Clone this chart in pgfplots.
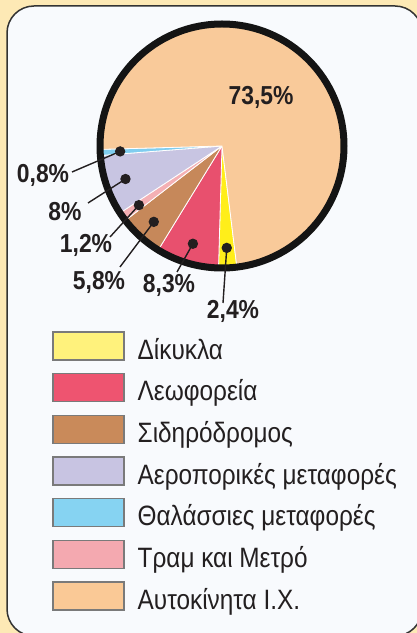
\documentclass[border=0pt]{standalone}
\usepackage{pgfplots}
\pgfplotsset{compat=1.18}
\usepackage{pgfplotstable}
\usepackage{fontspec}
\setmainfont{Liberation Sans}
\newfontfamily\labfont[FakeStretch=0.88]{Liberation Sans}
\newfontfamily\legfont[FakeStretch=0.87]{Liberation Sans}

\definecolor{bgcream}{HTML}{FDE9B5}
\definecolor{boxwhite}{HTML}{F8FAFD}
\definecolor{boxline}{HTML}{333333}
\definecolor{textc}{HTML}{231F20}
\definecolor{swgray}{HTML}{7A7A7A}
% pie colours (pie order)
\definecolor{c0}{HTML}{FFEE1A}
\definecolor{c1}{HTML}{E8506E}
\definecolor{c2}{HTML}{C6885A}
\definecolor{c3}{HTML}{F4B0B4}
\definecolor{c4}{HTML}{C8C5E2}
\definecolor{c5}{HTML}{80CDEF}
\definecolor{c6}{HTML}{F9CA9A}
% legend colours
\definecolor{l0}{HTML}{FFF27C}
\definecolor{l1}{HTML}{EE5470}
\definecolor{l2}{HTML}{C98A5A}
\definecolor{l3}{HTML}{C8C4E2}
\definecolor{l4}{HTML}{86D3F2}
\definecolor{l5}{HTML}{F4A9B0}
\definecolor{l6}{HTML}{FAC996}

\pgfplotstableread{
name value
Dikykla 2.4
Leoforeia 8.3
Sidirodromos 5.8
Tram 1.2
Aeroporikes 8.0
Thalassies 0.8
Aftokinita 73.5
}\piedata

\begin{document}
\begin{tikzpicture}
\begin{axis}[x=0.5pt,y=0.5pt,xmin=0,xmax=417,ymin=0,ymax=633,
  hide axis, clip=false,
  legend cell align=left,
  legend style={at={(axis cs:52.3,301.7)},anchor=north west,draw=none,fill=none,
    inner sep=0pt,outer sep=0pt,row sep=4pt,
    font=\legfont\fontsize{14}{16}\selectfont, text=textc,
    nodes={inner sep=0pt, text height=9pt, text depth=3pt},
    /tikz/every odd column/.append style={column sep=6.5pt}},
  legend image code/.code={\draw[#1,draw=swgray,line width=0.7pt] (0pt,-3.5pt) rectangle (35.5pt,10.5pt);}
]
\coordinate (BL) at (axis cs:0,0);
\coordinate (TR) at (axis cs:417,633);
\fill[bgcream] (axis cs:-10,-10) rectangle (axis cs:427,643);
\draw[fill=boxwhite, draw=boxline, line width=0.75pt, rounded corners=13.5pt] (axis cs:7,-3) rectangle (axis cs:422,627);

\def\cx{222}\def\cy{487}\def\startang{-83}\def\R{61pt}
\pgfplotstablegetrowsof{\piedata}
\pgfmathtruncatemacro\N{\pgfplotsretval-1}
\def\cum{0}
\pgfplotsforeachungrouped \i in {0,...,\N}{%
  \pgfplotstablegetelem{\i}{value}\of\piedata
  \let\v\pgfplotsretval
  \pgfmathsetmacro\aS{\startang-3.6*\cum}
  \pgfmathsetmacro\aE{\startang-3.6*(\cum+\v)}
  \pgfmathsetmacro\aM{(\aS+\aE)/2}
  \pgfmathsetmacro\cum{\cum+\v}
  \edef\temp{\noexpand\filldraw[fill=c\i,draw=white,line width=0.4pt] (axis cs:\cx,\cy) -- ++(\aS:\R) arc[start angle=\aS,end angle=\aE,radius=\R] -- cycle;
    \noexpand\path (axis cs:\cx,\cy) ++(\aM:51pt) coordinate (dot\i);}
  \temp
}
\draw[line width=3.5pt, draw=black!92] (axis cs:\cx,\cy) circle[radius=\R];

\draw[line width=0.7pt,textc] (dot5) -- (axis cs:72,461);
\draw[line width=0.7pt,textc] (dot4) -- (axis cs:88,430);
\draw[line width=0.7pt,textc] (dot3) -- (axis cs:110,396);
\draw[line width=0.7pt,textc] (dot2) -- (axis cs:120,366);
\draw[line width=0.7pt,textc] (dot1) -- (axis cs:177,361);
\draw[line width=0.7pt,textc] (dot0) -- (axis cs:223,330);
\pgfplotsinvokeforeach{0,...,5}{\fill[textc] (dot#1) circle[radius=2.6pt];}

\begin{scope}[every node/.style={font=\labfont\bfseries\fontsize{13}{15}\selectfont, text=textc, inner sep=0pt}]
\node at (axis cs:261,536) {73,5\%};
\node at (axis cs:43,458) {0,8\%};
\node at (axis cs:65,421) {8\%};
\node at (axis cs:86,388) {1,2\%};
\node at (axis cs:99,351) {5,8\%};
\node at (axis cs:169,348) {8,3\%};
\node at (axis cs:233,322) {2,4\%};
\end{scope}

\addlegendimage{fill=l0}\addlegendentry{Δίκυκλα}
\addlegendimage{fill=l1}\addlegendentry{Λεωφορεία}
\addlegendimage{fill=l2}\addlegendentry{Σιδηρόδρομος}
\addlegendimage{fill=l3}\addlegendentry{Αεροπορικές μεταφορές}
\addlegendimage{fill=l4}\addlegendentry{Θαλάσσιες μεταφορές}
\addlegendimage{fill=l5}\addlegendentry{Τραμ και Μετρό}
\addlegendimage{fill=l6}\addlegendentry{Αυτοκίνητα Ι.Χ.}
\end{axis}
\pgfresetboundingbox
\path[use as bounding box] (BL) rectangle (TR);
\end{tikzpicture}
\end{document}
